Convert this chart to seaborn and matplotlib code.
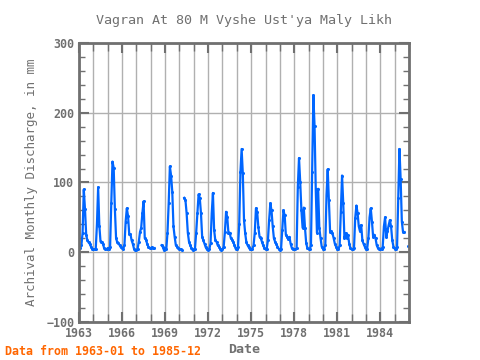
import numpy as np
import pandas as pd
import matplotlib
matplotlib.use("Agg")
import matplotlib.pyplot as plt
import seaborn as sns
from matplotlib.ticker import MultipleLocator, FixedLocator

nan = np.nan

# Monthly discharge (mm), Jan..Dec
v1963 = [8, 6, 10, 28, 90, 62, 25, 17, 14, 12, 8, 5]
v1964 = [4, 4, 5, 40, 93, 38, 15, 15, 12, 6, 5, 4]
v1965 = [6, 5, 8, 71, 130, 121, 62, 20, 14, 13, 10, 7]
v1966 = [6, 5, 10, 44, 63, 52, 26, 26, 17, 12, 5, 3]
v1967 = [3, 5, 15, 29, 35, 56, 73, 20, 18, 12, 8, 6]
v1968 = [6, 7, 6, 6, nan, nan, nan, nan, nan, 10, 8, 3]
v1969 = [6, 4, 28, 70, 123, 110, 87, 37, 22, 10, 8, 6]
v1970 = [5, 4, 3, nan, 78, 75, 56, 28, 15, 10, 6, 3]
v1971 = [4, 5, 28, 56, 83, 78, 56, 22, 17, 12, 7, 4]
v1972 = [3, 4, 13, 56, 85, 32, 17, 15, 10, 8, 5, 3]
v1973 = [4, 8, 29, 58, 50, 27, 28, 20, 18, 15, 10, 5]
v1974 = [5, 8, 40, 115, 148, 113, 46, 27, 14, 10, 7, 4]
v1975 = [4, 5, 10, 28, 63, 58, 36, 22, 20, 15, 10, 6]
v1976 = [4, 5, 17, 46, 70, 60, 37, 20, 15, 12, 8, 5]
v1977 = [3, 5, 32, 60, 53, 25, 22, 19, 22, 12, 6, 4]
v1978 = [4, 4, 6, 94, 135, 101, 60, 35, 64, 35, 13, 6]
v1979 = [5, 4, 10, 115, 225, 181, 90, 28, 91, 35, 20, 8]
v1980 = [5, 5, 10, 82, 119, 75, 29, 30, 27, 20, 12, 8]
v1981 = [4, 4, 10, 58, 110, 70, 20, 27, 20, 25, 12, 6]
v1982 = [4, 4, 6, 49, 67, 56, 37, 30, 39, 17, 12, 8]
v1983 = [4, 5, 20, 50, 63, 44, 22, 25, 20, 10, 6, 5]
v1984 = [5, 4, 8, 37, 50, 22, 30, 39, 46, 37, 17, 8]
v1985 = [5, 5, 7, 78, 148, 105, 44, 29, 29, nan, nan, 9]

years = list(range(1963, 1986))
yearly = [v1963, v1964, v1965, v1966, v1967, v1968, v1969, v1970, v1971, v1972,
          v1973, v1974, v1975, v1976, v1977, v1978, v1979, v1980, v1981, v1982,
          v1983, v1984, v1985]
tick_years = [1963, 1966, 1969, 1972, 1975, 1978, 1981, 1984]

rows = []
for yr, vals in zip(years, yearly):
    for m, v in enumerate(vals):
        rows.append((yr + m / 12.0, v))
df = pd.DataFrame(rows, columns=["date", "flow"])

# split into contiguous pieces so missing months leave gaps
df["seg"] = df["flow"].isna().cumsum()
df = df.dropna()

grey = "#707070"
plt.rcParams["font.family"] = ["DejaVu Sans Mono", "DejaVu Sans"]

fig = plt.figure(figsize=(4.8, 3.6), dpi=100)
ax = fig.add_axes([0.1646, 0.1056, 0.6875, 0.775])

ax.set_xlim(1963, 1986)
ax.set_ylim(-100, 300)
ax.xaxis.set_major_locator(FixedLocator(tick_years))
ax.xaxis.set_minor_locator(MultipleLocator(1))
ax.yaxis.set_major_locator(MultipleLocator(100))
ax.yaxis.set_minor_locator(MultipleLocator(20))
ax.grid(True, which="major", axis="y", color="#b0b0b0", lw=1)
ax.grid(True, which="both", axis="x", color="#b0b0b0", lw=1)
ax.set_axisbelow(True)

sns.lineplot(data=df, x="date", y="flow", units="seg", estimator=None,
             sort=False, color="#0066ff", lw=1.6, marker="o", markersize=2.2,
             markeredgewidth=0, ax=ax)

ax.set_xticklabels([str(y) for y in tick_years])
ax.tick_params(which="both", direction="in", top=True, right=True, color=grey,
               labelcolor=grey, labelsize=8.4)
ax.tick_params(which="major", length=7, width=1.5)
ax.tick_params(which="minor", length=4, width=1)
ax.tick_params(axis="x", which="minor", length=6)
for s in ax.spines.values():
    s.set_color(grey)
    s.set_linewidth(2)
for lab in ax.get_xticklabels() + ax.get_yticklabels():
    lab.set_fontweight("bold")

ax.set_title("Vagran At 80 M Vyshe Ust'ya Maly Likh", color=grey, fontsize=9.6,
             pad=14)
ax.set_xlabel("Date", color=grey, fontsize=9.6, fontweight="bold", labelpad=2)
ax.set_ylabel("Archival Monthly Discharge, in mm", color=grey, fontsize=9,
              labelpad=6)
fig.text(0.01, 0.015, "Data from 1963-01 to 1985-12", color="#ff6600",
         fontsize=8.4, fontweight="bold")

fig.savefig("out.png", dpi=100)
